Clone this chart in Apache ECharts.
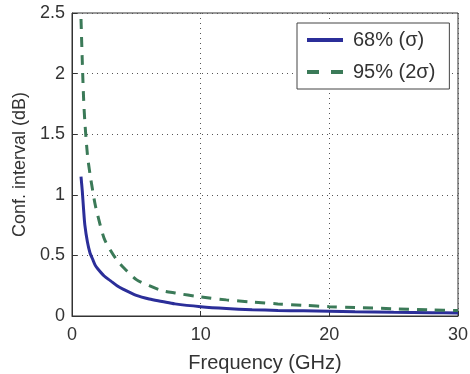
<!DOCTYPE html>
<html>
<head>
<meta charset="utf-8">
<script src="https://cdn.jsdelivr.net/npm/echarts@6/dist/echarts.min.js"></script>
<style>
  html, body { margin: 0; padding: 0; background: #fff; }
  #chart { width: 470px; height: 374px; }
</style>
</head>
<body>
<div id="chart"></div>
<script>
// frequency points (GHz)
const freqs = [0.7, 0.8, 0.9, 1.0, 1.2, 1.4, 1.6, 1.8, 2, 2.5, 3, 3.5, 4, 5, 6, 7, 8, 10, 12, 14, 16, 18, 20, 22, 25, 28, 30];
// 68% (sigma) confidence interval, dB
const sigma1 = [1.15, 1.03, 0.88, 0.75, 0.61, 0.52, 0.47, 0.42, 0.39, 0.33, 0.29, 0.25, 0.22, 0.17, 0.14, 0.12, 0.1, 0.077, 0.062, 0.052, 0.046, 0.043, 0.04, 0.036, 0.031, 0.027, 0.025];
// 95% (2 sigma) confidence interval, dB
const sigma2 = [2.45, 2.1, 1.8, 1.6, 1.33, 1.17, 1.04, 0.92, 0.83, 0.64, 0.54, 0.46, 0.4, 0.3, 0.25, 0.21, 0.19, 0.157, 0.133, 0.115, 0.1, 0.088, 0.077, 0.07, 0.06, 0.05, 0.045];

const font = "'Liberation Sans', Arial, sans-serif";
const textCol = "#333";
const blue = "#2b2e99";
const green = "#3b7a58";

const toPairs = (ys) => freqs.map((f, i) => [f, ys[i]]);

const chart = echarts.init(document.getElementById("chart"), null, { renderer: "canvas" });
chart.setOption({
    animation: false,
    textStyle: { fontFamily: font },
    grid: {
        left: 72, right: 12, top: 13, bottom: 58,
        containLabel: false, outerBoundsMode: "none",
        show: true, borderColor: "#333", borderWidth: 1,
    },
    legend: {
        orient: "vertical",
        left: 297, top: 23,
        padding: [7, 14, 7, 10],
        itemWidth: 36, itemHeight: 4, itemGap: 12,
        backgroundColor: "#fff",
        borderColor: "#444", borderWidth: 1,
        textStyle: { fontFamily: font, fontSize: 20, color: textCol, padding: [0, 0, 0, 5] },
        data: [
            { name: "68% (σ)", icon: "path://M0,0H36V4H0Z", itemStyle: { color: blue } },
            { name: "95% (2σ)", icon: "path://M0,0H12V4H0Z M24,0H36V4H24Z", itemStyle: { color: green } },
        ],
    },
    xAxis: {
        type: "value", min: 0, max: 30, interval: 10,
        name: "Frequency (GHz)", nameLocation: "middle", nameGap: 37,
        nameTextStyle: { fontSize: 20, color: textCol, fontFamily: font },
        axisLine: { show: true, lineStyle: { color: "#333" } },
        axisTick: { show: true, inside: true, length: 5, lineStyle: { color: "#333" } },
        axisLabel: { fontSize: 18, color: textCol, margin: 10 },
        splitLine: { show: true, lineStyle: { color: "#555", type: [1, 4], width: 1 } },
    },
    yAxis: {
        type: "value", min: 0, max: 2.5, interval: 0.5,
        name: "Conf. interval (dB)", nameLocation: "middle", nameGap: 42,
        nameTextStyle: { fontSize: 18, color: textCol, fontFamily: font },
        axisLine: { show: true, lineStyle: { color: "#333" } },
        axisTick: { show: true, inside: true, length: 5, lineStyle: { color: "#333" } },
        axisLabel: { fontSize: 18, color: textCol, margin: 7 },
        splitLine: { show: true, lineStyle: { color: "#555", type: [1, 4], width: 1 } },
    },
    series: [
        {
            name: "68% (σ)", type: "line", data: toPairs(sigma1),
            smooth: 0.3, showSymbol: false, symbol: "none",
            lineStyle: { color: blue, width: 3 },
            itemStyle: { color: blue },
        },
        {
            name: "95% (2σ)", type: "line", data: toPairs(sigma2),
            smooth: 0.3, showSymbol: false, symbol: "none",
            lineStyle: { color: green, width: 3, type: [10, 8] },
            itemStyle: { color: green },
        },
    ],
});
</script>
</body>
</html>
